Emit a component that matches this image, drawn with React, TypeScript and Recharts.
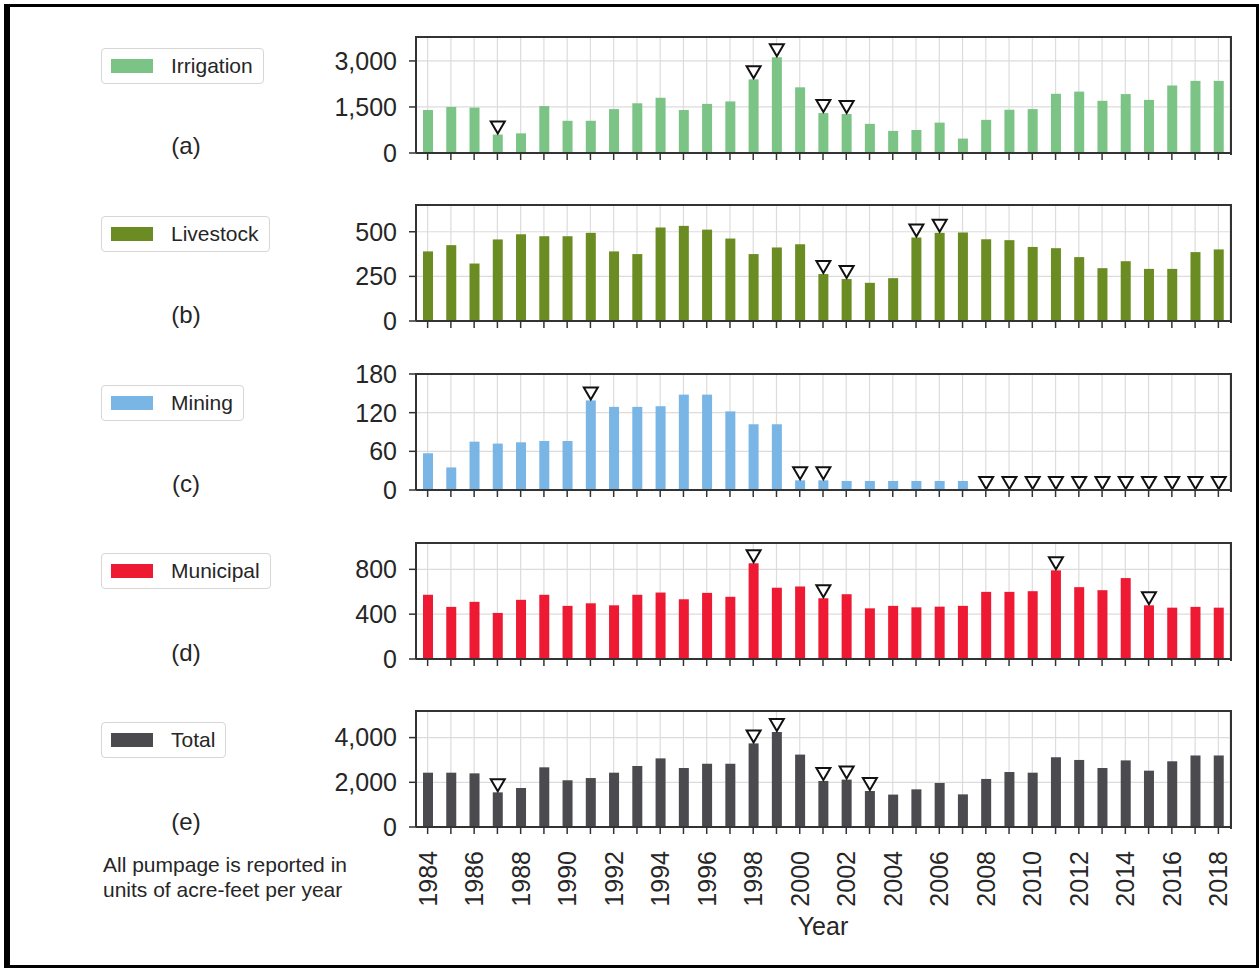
import { Bar, CartesianGrid, ComposedChart, XAxis, YAxis } from "recharts";

const years = [
  1984, 1985, 1986, 1987, 1988, 1989, 1990, 1991, 1992, 1993, 1994, 1995,
  1996, 1997, 1998, 1999, 2000, 2001, 2002, 2003, 2004, 2005, 2006, 2007,
  2008, 2009, 2010, 2011, 2012, 2013, 2014, 2015, 2016, 2017, 2018,
];

const irrigation = [
  1400, 1500, 1480, 600, 640, 1530, 1050, 1050, 1430, 1620, 1800, 1400, 1600,
  1680, 2400, 3120, 2140, 1300, 1270, 950, 720, 750, 990, 470, 1080, 1410,
  1430, 1930, 2000, 1700, 1920, 1730, 2200, 2350, 2350,
];
const livestock = [
  390, 425, 322, 457, 486, 475, 475, 494, 390, 375, 524, 533, 512, 462, 375,
  412, 430, 263, 235, 214, 240, 468, 494, 496, 458, 453, 415, 408, 358, 296,
  335, 292, 292, 386, 401,
];
const mining = [
  57, 35, 75, 72, 74, 76, 76, 139, 129, 129, 130, 148, 148, 122, 102, 102, 15,
  15, 14, 14, 14, 14, 14, 14, 0, 0, 0, 0, 0, 0, 0, 0, 0, 0, 0,
];
const municipal = [
  573, 465, 510, 411, 528, 573, 474, 497, 479, 573, 593, 533, 590, 555, 854,
  636, 647, 542, 578, 452, 474, 461, 467, 474, 599, 599, 605, 791, 641, 614,
  722, 479, 458, 465, 458,
];
const total = [
  2430, 2430, 2400, 1550, 1745, 2670, 2090, 2190, 2430, 2730, 3070, 2640, 2830,
  2830, 3740, 4250, 3240, 2060, 2120, 1610, 1450, 1685, 1970, 1460, 2150, 2460,
  2430, 3120, 3000, 2640, 2980, 2520, 2940, 3200, 3200,
];

// years marked with an open triangle
const irrigationFlags = [1987, 1998, 1999, 2001, 2002];
const livestockFlags = [2001, 2002, 2005, 2006];
const miningFlags = [
  1991, 2000, 2001, 2008, 2009, 2010, 2011, 2012, 2013, 2014, 2015, 2016, 2017,
  2018,
];
const municipalFlags = [1998, 2001, 2011, 2015];
const totalFlags = [1987, 1998, 1999, 2001, 2002, 2003];

const irrigationTicks = [0, 1500, 3000];
const livestockTicks = [0, 250, 500];
const miningTicks = [0, 60, 120, 180];
const municipalTicks = [0, 400, 800];
const totalTicks = [0, 2000, 4000];

const FONT = "'Liberation Sans', Arial, Helvetica, sans-serif";
const TEXT = "#262626";
const SPINE = "#333333";
const PAD_TOP = 16;

interface PanelProps {
  values: number[];
  flags: number[];
  color: string;
  ticks: number[];
  max: number;
  top: number;
  bottom?: boolean;
}

function YearTick(props: any) {
  const { x, y, payload, show } = props;
  const yr = Number(payload.value);
  if (!show || yr % 2 !== 0) return <g />;
  return (
    <text
      x={x}
      y={y}
      transform={`rotate(-90 ${x} ${y})`}
      textAnchor="end"
      dominantBaseline="central"
      fontSize={25}
      fontFamily={FONT}
      fill={TEXT}
    >
      {yr}
    </text>
  );
}

function Panel({ values, flags, color, ticks, max, top, bottom }: PanelProps) {
  const data = years.map((year, i) => ({ year, value: values[i] }));
  const axisH = bottom ? 110 : 18;

  const shape = (p: any) => {
    const { x, y, width, height, payload } = p;
    const cx = x + width / 2;
    const flagged = flags.includes(payload.year);
    return (
      <g>
        {height > 0 && <rect x={x} y={y} width={width} height={height} fill={color} />}
        {flagged && (
          <path
            d={`M${cx - 7},${y - 13} L${cx + 7},${y - 13} L${cx},${y - 1} Z`}
            fill="#fff"
            stroke="#111"
            strokeWidth={2}
          />
        )}
      </g>
    );
  };

  return (
    <>
      <div style={{ position: "absolute", left: 0, top: top - PAD_TOP }}>
        <ComposedChart
          width={1260}
          height={PAD_TOP + 116 + axisH}
          data={data}
          margin={{ top: PAD_TOP, right: 30, left: 0, bottom: 0 }}
        >
          <CartesianGrid stroke="#dcdcdc" strokeWidth={1.2} />
          <Bar
            dataKey="value"
            barSize={10}
            shape={shape}
            isAnimationActive={false}
          />
          <XAxis
            dataKey="year"
            interval={0}
            tickSize={7}
            tickMargin={17}
            height={axisH}
            tickLine={{ stroke: SPINE, strokeWidth: 1.5 }}
            axisLine={{ stroke: SPINE, strokeWidth: 2 }}
            tick={<YearTick show={!!bottom} />}
          />
          <YAxis
            width={416}
            domain={[0, max]}
            ticks={ticks}
            interval={0}
            tickSize={7}
            tickMargin={12}
            tickFormatter={(v: number) => v.toLocaleString("en-US")}
            tick={{ fontSize: 25, fill: TEXT, fontFamily: FONT }}
            tickLine={{ stroke: SPINE, strokeWidth: 1.5 }}
            axisLine={{ stroke: SPINE, strokeWidth: 2 }}
          />
        </ComposedChart>
      </div>
      {/* top and right spines of the axes box */}
      <div
        style={{
          position: "absolute",
          left: 415,
          top: top - 1,
          width: 815,
          height: 117,
          borderTop: `2px solid ${SPINE}`,
          borderRight: `2px solid ${SPINE}`,
          pointerEvents: "none",
        }}
      />
    </>
  );
}

function LegendBox({ label, color, y }: { label: string; color: string; y: number }) {
  return (
    <div
      style={{
        position: "absolute",
        left: 101,
        top: y - 18,
        height: 34,
        display: "flex",
        alignItems: "center",
        padding: "0 10px 0 9px",
        border: "1px solid #d6d6d6",
        borderRadius: 4,
        background: "#fff",
        fontFamily: FONT,
        fontSize: 21,
        color: TEXT,
      }}
    >
      <span style={{ width: 42, height: 14, background: color, marginRight: 18 }} />
      <span>{label}</span>
    </div>
  );
}

function PanelLabel({ text, y }: { text: string; y: number }) {
  return (
    <div
      style={{
        position: "absolute",
        left: 136,
        width: 100,
        top: y - 15,
        textAlign: "center",
        fontFamily: FONT,
        fontSize: 24,
        lineHeight: "30px",
        color: TEXT,
      }}
    >
      {text}
    </div>
  );
}

export default function App() {
  return (
    <div
      style={{
        position: "absolute",
        left: 0,
        top: 0,
        width: 1260,
        height: 970,
        background: "#fff",
        overflow: "hidden",
      }}
    >
      <div
        style={{
          position: "absolute",
          left: 4,
          top: 4,
          width: 1246,
          height: 958,
          border: "3px solid #000",
          borderLeftWidth: 6,
        }}
      />
      <Panel values={irrigation} flags={irrigationFlags} color="#7cc386" ticks={irrigationTicks} max={3780} top={37} />
      <Panel values={livestock} flags={livestockFlags} color="#6b8c22" ticks={livestockTicks} max={650} top={205} />
      <Panel values={mining} flags={miningFlags} color="#79b5e5" ticks={miningTicks} max={180} top={374} />
      <Panel values={municipal} flags={municipalFlags} color="#ee1a33" ticks={municipalTicks} max={1035} top={543} />
      <Panel values={total} flags={totalFlags} color="#4a4a4f" ticks={totalTicks} max={5190} top={711} bottom />

      <LegendBox label="Irrigation" color="#7cc386" y={66} />
      <LegendBox label="Livestock" color="#6b8c22" y={234} />
      <LegendBox label="Mining" color="#79b5e5" y={403} />
      <LegendBox label="Municipal" color="#ee1a33" y={571} />
      <LegendBox label="Total" color="#4a4a4f" y={740} />

      <PanelLabel text="(a)" y={146} />
      <PanelLabel text="(b)" y={315} />
      <PanelLabel text="(c)" y={484} />
      <PanelLabel text="(d)" y={653} />
      <PanelLabel text="(e)" y={822} />

      <div
        style={{
          position: "absolute",
          left: 103,
          top: 852,
          fontFamily: FONT,
          fontSize: 21,
          lineHeight: "25px",
          color: TEXT,
        }}
      >
        All pumpage is reported in
        <br />
        units of acre-feet per year
      </div>
      <div
        style={{
          position: "absolute",
          left: 723,
          width: 200,
          top: 911,
          textAlign: "center",
          fontFamily: FONT,
          fontSize: 25,
          lineHeight: "30px",
          color: TEXT,
        }}
      >
        Year
      </div>
    </div>
  );
}
